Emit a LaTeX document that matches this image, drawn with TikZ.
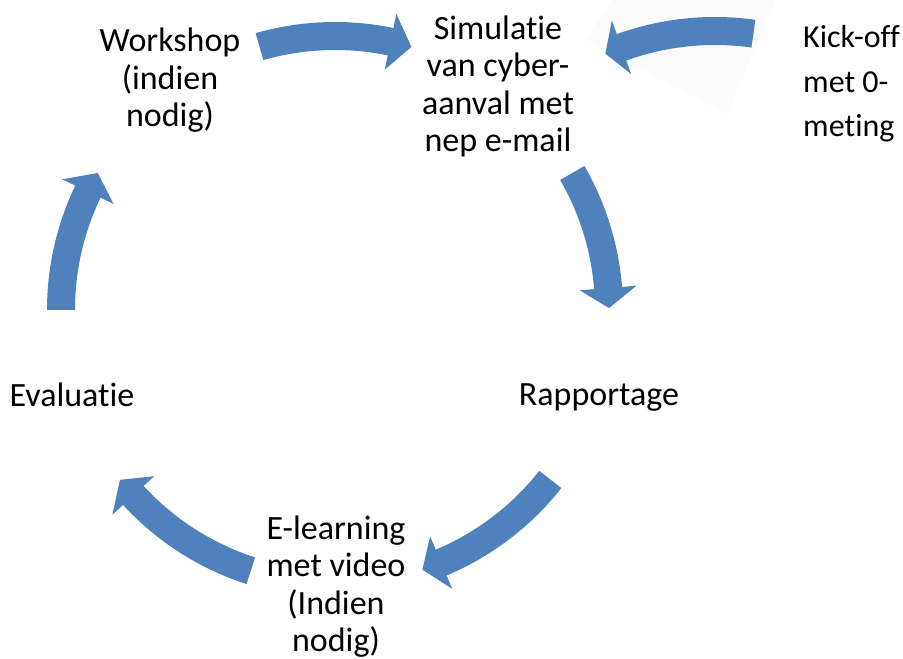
\documentclass[tikz,border=0pt]{standalone}
\usepackage{fontspec}
\setmainfont{Carlito}[Ligatures=NoCommon]
\usepackage{tikz}
\usetikzlibrary{calc}
\definecolor{pijlblauw}{HTML}{4F81BD}
\definecolor{vaag}{RGB}{251,251,251}
\tikzset{
  tekst/.style={inner sep=0pt, anchor=base, align=center,
                font=\fontsize{34}{37.5}\selectfont},
  pijlvlak/.style={fill=pijlblauw},
}
% gebogen blokpijl: middelpunt, straal, staarthoek, hoek kopbasis, hoek punt
\newcommand{\pijl}[5]{%
  \pgfmathsetmacro\pijlbu{#2+14}\pgfmathsetmacro\pijlbi{#2-14}%
  \pgfmathsetmacro\pijlku{#2+28.5}\pgfmathsetmacro\pijlki{#2-28.5}%
  \fill[pijlvlak] ($(#1)+(#3:\pijlbu pt)$) arc[start angle=#3, end angle=#4, radius=\pijlbu pt]
    -- ($(#1)+(#4:\pijlku pt)$) -- ($(#1)+(#5:#2pt)$) -- ($(#1)+(#4:\pijlki pt)$)
    -- ($(#1)+(#4:\pijlbi pt)$) arc[start angle=#4, end angle=#3, radius=\pijlbi pt] -- cycle;}

\begin{document}
\begin{tikzpicture}[x=1pt, y=1pt]
  \useasboundingbox (0,0) rectangle (903,659);
  \coordinate (midden) at (335,349);
  \coordinate (kickmidden) at (715,352);

  % vage achtergrond van de kick-off pijl
  \fill[vaag] (585,619) -- (612,659) -- (775,659) -- (727,544) -- cycle;

  % anchor=base ligt op de onderste regel
  \node[tekst] (simulatie) at (498,507) {Simulatie\\van cyber-\\aanval met\\nep e-mail};
  \node[tekst] (workshop) at (170,532) {Workshop\\(indien\\nodig)};
  \node[tekst] (evaluatie) at (72,252) {Evaluatie};
  \node[tekst] (rapportage) at (599,253) {Rapportage};
  \node[tekst] (elearning) at (336,7) {E-learning\\met video\\(Indien\\nodig)};
  \node[tekst, align=left, anchor=base west, font=\fontsize{32}{44.5}\selectfont]
    (kickoff) at (803,522) {Kick-off\\met 0-\\meting};

  \pijl{midden}{274}{106}{78.3}{73.8}
  \pijl{midden}{274}{30}{4.6}{0.4}
  \pijl{midden}{274}{-38.2}{-67.2}{-71.4}
  \pijl{midden}{274}{-107.9}{-137.4}{-141.7}
  \pijl{midden}{274}{180}{154.4}{150}
  \pijl{kickmidden}{276}{82}{109.8}{113.4}
\end{tikzpicture}
\end{document}
